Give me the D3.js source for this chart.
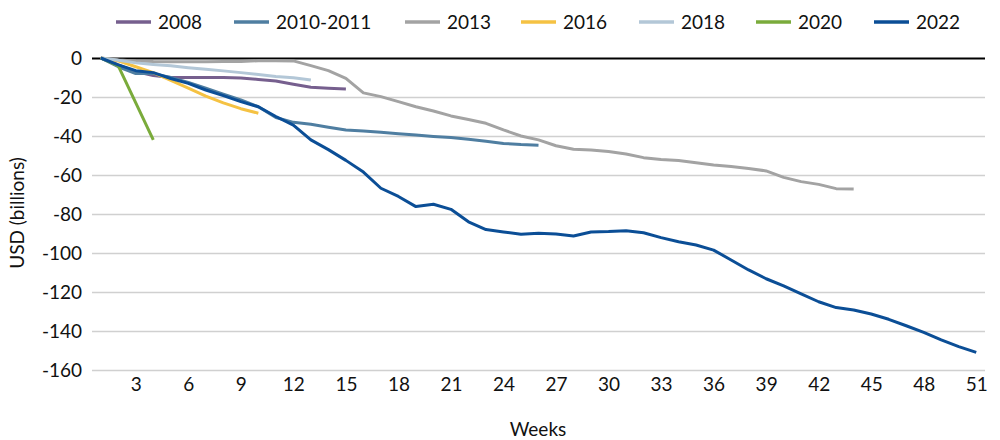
<!DOCTYPE html>
<html>
<head>
<meta charset="utf-8">
<script src="https://cdn.jsdelivr.net/npm/d3@7"></script>
<style>
  body { margin: 0; background: #fff; }
  svg { font-family: Lato, "Open Sans", sans-serif; }
</style>
</head>
<body>
<svg id="chart" width="1000" height="440"></svg>
<script>
// values in USD billions, week 1 onwards
const s2008 = [0, -3.5, -7, -9, -10, -10, -10, -10, -10.3, -11, -11.8, -13.5, -15, -15.5, -15.9];
const s2010 = [0, -4.5, -8, -8, -10, -12.5, -15.5, -18.5, -21.5, -25, -30.5, -33, -34, -35.5, -36.9,
  -37.4, -38.1, -38.8, -39.5, -40.2, -40.8, -41.7, -42.7, -43.8, -44.4, -44.8];
const s2013 = [0, -1, -1.5, -1.8, -1.9, -1.9, -1.9, -1.8, -1.8, -1.4, -1.4, -1.5, -3.9, -6.5, -10.4,
  -17.9, -19.8, -22.4, -25, -27.2, -29.7, -31.5, -33.5, -36.9, -40, -42, -45, -46.8, -47.2, -48,
  -49.2, -51.1, -52, -52.6, -53.7, -54.9, -55.7, -56.7, -57.9, -61.2, -63.4, -64.8, -67, -67.2];
const s2016 = [0, -1.5, -4.5, -7.5, -11.5, -15.5, -19.5, -23, -26, -28.3];
const s2018 = [0, -1.2, -2.5, -3.3, -4, -5, -5.8, -6.6, -7.5, -8.5, -9.5, -10.1, -11.3];
const s2020 = [0, -4, -23, -42];
const s2022 = [0, -3.5, -6.5, -7.5, -10.5, -13, -16.4, -19.3, -22.4, -25, -30, -34.4, -42, -47,
  -52.5, -58.5, -66.8, -71, -76.2, -75, -77.6, -84, -88, -89.2, -90.4, -89.9, -90.3, -91.3, -89.2,
  -89, -88.6, -89.6, -92.1, -94.2, -95.9, -98.5, -103.6, -108.7, -113.2, -116.9, -121, -125, -128,
  -129.2, -131.3, -134, -137.3, -140.7, -144.6, -148, -151];

const seriesNames = ['2008', '2010-2011', '2013', '2016', '2018', '2020', '2022'];
const seriesData = [s2008, s2010, s2013, s2016, s2018, s2020, s2022];
const seriesColors = ['#765f8e', '#4f7ea1', '#a3a3a3', '#f5c243', '#b3c7d7', '#7aab3b', '#0b4e96'];

const weekCount = 51;
const xTicks = d3.range(3, 52, 3);
const yTicks = d3.range(0, -161, -20);

(function() {
  let svg = d3.select('#chart');
  let left = 92, right = 985, plotTop = 58, plotBottom = 370;

  let x = d3.scaleLinear().domain([0.5, weekCount + 0.5]).range([left, right]);
  let y = d3.scaleLinear().domain([0, -160]).range([plotTop, plotBottom]);

  //
  // Gridlines and y labels
  //
  // plain hyphen for negatives, like the source chart
  let yAxis = d3.axisLeft(y).tickValues(yTicks).tickSize(-(right - left)).tickPadding(10)
    .tickFormat((d) => String(d));
  let yG = svg.append('g').attr('transform', `translate(${left},0)`).call(yAxis);
  yG.select('.domain').remove();
  yG.selectAll('line').attr('stroke', (d) => d === 0 ? '#000' : '#d0d0d0')
    .attr('stroke-width', (d) => d === 0 ? 2 : 1.3);
  yG.selectAll('text').attr('font-size', 19).attr('fill', '#111')
    .attr('font-family', 'Lato, sans-serif').attr('dy', '0.35em');

  //
  // x labels (no axis line)
  //
  let xAxis = d3.axisBottom(x).tickValues(xTicks).tickSize(0).tickPadding(8);
  let xG = svg.append('g').attr('transform', `translate(0,${plotBottom})`).call(xAxis);
  xG.select('.domain').remove();
  xG.selectAll('text').attr('font-size', 19).attr('fill', '#111')
    .attr('font-family', 'Lato, sans-serif');

  // axis titles
  svg.append('text')
    .attr('x', 538).attr('y', 436)
    .attr('text-anchor', 'middle').attr('font-size', 19).attr('fill', '#111')
    .text('Weeks');
  svg.append('text')
    .attr('transform', 'translate(24,213) rotate(-90)')
    .attr('text-anchor', 'middle').attr('font-size', 19).attr('fill', '#111')
    .text('USD (billions)');

  //
  // Lines
  //
  let line = d3.line()
    .x((d, i) => x(i + 1))
    .y((d) => y(d));

  svg.append('g').selectAll('path')
    .data(seriesData)
    .enter().append('path')
    .attr('d', line)
    .attr('fill', 'none')
    .attr('stroke', (d, i) => seriesColors[i])
    .attr('stroke-width', 3)
    .attr('stroke-linejoin', 'round');

  //
  // Legend
  //
  const legendX = [116, 234, 405, 521, 639, 756, 874];
  let legend = svg.append('g').selectAll('g')
    .data(seriesNames)
    .enter().append('g')
    .attr('transform', (d, i) => `translate(${legendX[i]},22)`);
  legend.append('line')
    .attr('x1', 0).attr('x2', 35)
    .attr('stroke', (d, i) => seriesColors[i])
    .attr('stroke-width', 3.5);
  legend.append('text')
    .attr('x', 42).attr('dy', '0.35em')
    .attr('font-size', 19).attr('fill', '#111')
    .text((d) => d);
})();
</script>
</body>
</html>
